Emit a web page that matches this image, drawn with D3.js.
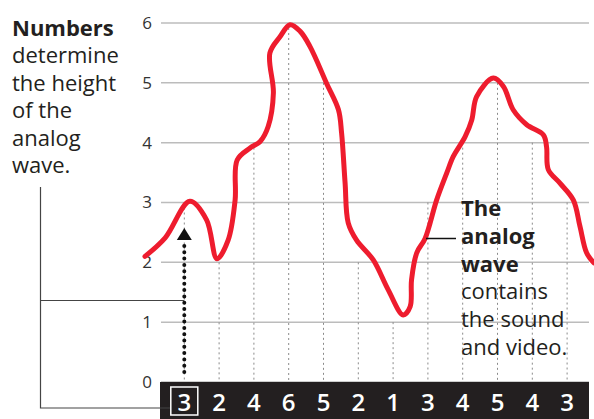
<!DOCTYPE html>
<html>
<head>
<meta charset="utf-8">
<script src="https://cdn.jsdelivr.net/npm/d3@7"></script>
<style>
  body { margin: 0; background: #fff; }
  svg { display: block; font-family: "Open Sans", sans-serif; }
</style>
</head>
<body>
<svg class="waveChart" width="594" height="419"></svg>
<script>
// sampled heights shown in the black strip
const samples = [3, 2, 4, 6, 5, 2, 1, 3, 4, 5, 4, 3];
const yTicks = [0, 1, 2, 3, 4, 5, 6];

// the analog wave (x = sample position, y = height)
const waveX = [-1.13, -0.55, 0.16, 0.64, 0.94, 1.26, 1.46, 1.52, 1.89, 2.18, 2.41, 2.56, 2.46, 2.75, 3.04, 3.33, 3.61, 4.09, 4.43, 4.52, 4.62, 4.71, 4.95, 5.43, 5.86, 6.29, 6.49, 6.53, 6.68, 6.92, 7.25, 7.54, 7.73, 8.07, 8.26, 8.40, 8.88, 9.17, 9.45, 9.84, 10.32, 10.41, 10.46, 10.80, 11.18, 11.37, 11.56, 11.77];
const waveY = [2.10, 2.41, 3.02, 2.71, 2.06, 2.37, 3.04, 3.71, 3.91, 4.02, 4.27, 4.83, 5.50, 5.77, 5.97, 5.86, 5.61, 4.99, 4.55, 4.16, 3.33, 2.66, 2.37, 2.04, 1.54, 1.12, 1.26, 1.71, 2.16, 2.40, 3.04, 3.49, 3.77, 4.10, 4.38, 4.77, 5.08, 4.94, 4.55, 4.30, 4.13, 3.93, 3.55, 3.32, 3.04, 2.60, 2.16, 1.99];

// annotation text
const leftNote = [["Numbers", true], ["determine", false], ["the height", false], ["of the", false], ["analog", false], ["wave.", false]];
const rightNote = [["The", true], ["analog", true], ["wave", true], ["contains", false], ["the sound", false], ["and video.", false]];

const svg = d3.select(".waveChart");

const x = d3.scaleLinear().domain([0, samples.length - 1]).range([184.3, 567.1]);
const y = d3.scaleLinear().domain([0, 6]).range([382, 23]);

const gridLeft = 161, gridRight = 589;

// horizontal grid
svg.append("g")
  .selectAll("line")
  .data(yTicks)
  .join("line")
  .attr("x1", gridLeft).attr("x2", gridRight)
  .attr("y1", d => y(d)).attr("y2", d => y(d))
  .attr("stroke", "#bcbcbc")
  .attr("stroke-width", 1.5);

// y labels
svg.append("g")
  .selectAll("text")
  .data(yTicks)
  .join("text")
  .attr("x", 152)
  .attr("y", d => y(d))
  .attr("dy", "0.35em")
  .attr("text-anchor", "end")
  .attr("font-size", 17)
  .attr("fill", "#333")
  .text(d => d);

// dotted sample lines
svg.append("g")
  .selectAll("line")
  .data(samples)
  .join("line")
  .attr("x1", (d, i) => x(i)).attr("x2", (d, i) => x(i))
  .attr("y1", d => y(d)).attr("y2", y(0))
  .attr("stroke", "#8a8a8a")
  .attr("stroke-width", 1)
  .attr("stroke-dasharray", "2,3");

// black strip with numbers
svg.append("rect")
  .attr("x", 160).attr("y", y(0))
  .attr("width", 429).attr("height", 419 - y(0))
  .attr("fill", "#231f20");

svg.append("g")
  .selectAll("text")
  .data(samples)
  .join("text")
  .attr("x", (d, i) => x(i))
  .attr("y", 411)
  .attr("text-anchor", "middle")
  .attr("font-size", 24)
  .attr("font-weight", 600)
  .attr("fill", "#fff")
  .text(d => d);

svg.append("rect")
  .attr("x", x(0) - 13.5).attr("y", 387)
  .attr("width", 27).attr("height", 28)
  .attr("fill", "none")
  .attr("stroke", "#fff")
  .attr("stroke-width", 1.5);

// the wave
const wave = waveX.map((v, i) => [v, waveY[i]]);
svg.append("path")
  .datum(wave)
  .attr("fill", "none")
  .attr("stroke", "#ee1c2e")
  .attr("stroke-width", 5)
  .attr("stroke-linejoin", "round")
  .attr("stroke-linecap", "round")
  .attr("d", d3.line().x(d => x(d[0])).y(d => y(d[1])).curve(d3.curveCatmullRom.alpha(0.5)));

// dotted arrow from first number up to the wave
svg.append("line")
  .attr("x1", x(0)).attr("x2", x(0))
  .attr("y1", 372).attr("y2", 241)
  .attr("stroke", "#111")
  .attr("stroke-width", 4)
  .attr("stroke-linecap", "round")
  .attr("stroke-dasharray", "0,6.3");
svg.append("path")
  .attr("d", `M${x(0)},228 L${x(0) + 7.5},240 L${x(0) - 7.5},240 Z`)
  .attr("fill", "#111");

// left bracket
svg.append("path")
  .attr("d", `M40.5,187 V408 H170 M40.5,300.5 H${x(0)}`)
  .attr("fill", "none")
  .attr("stroke", "#444")
  .attr("stroke-width", 1.2);

// notes
svg.append("g")
  .selectAll("text")
  .data(leftNote)
  .join("text")
  .attr("x", 12)
  .attr("y", (d, i) => 36 + i * 27.4)
  .attr("font-size", 22)
  .attr("font-weight", d => d[1] ? 700 : 400)
  .attr("fill", "#231f20")
  .text(d => d[0]);

svg.append("g")
  .selectAll("text")
  .data(rightNote)
  .join("text")
  .attr("x", 461)
  .attr("y", (d, i) => 216 + i * 27.8)
  .attr("font-size", 22)
  .attr("font-weight", d => d[1] ? 700 : 400)
  .attr("fill", "#231f20")
  .text(d => d[0]);

svg.append("line")
  .attr("x1", 426).attr("x2", 456)
  .attr("y1", 238.5).attr("y2", 238.5)
  .attr("stroke", "#111")
  .attr("stroke-width", 1.5);
</script>
</body>
</html>
